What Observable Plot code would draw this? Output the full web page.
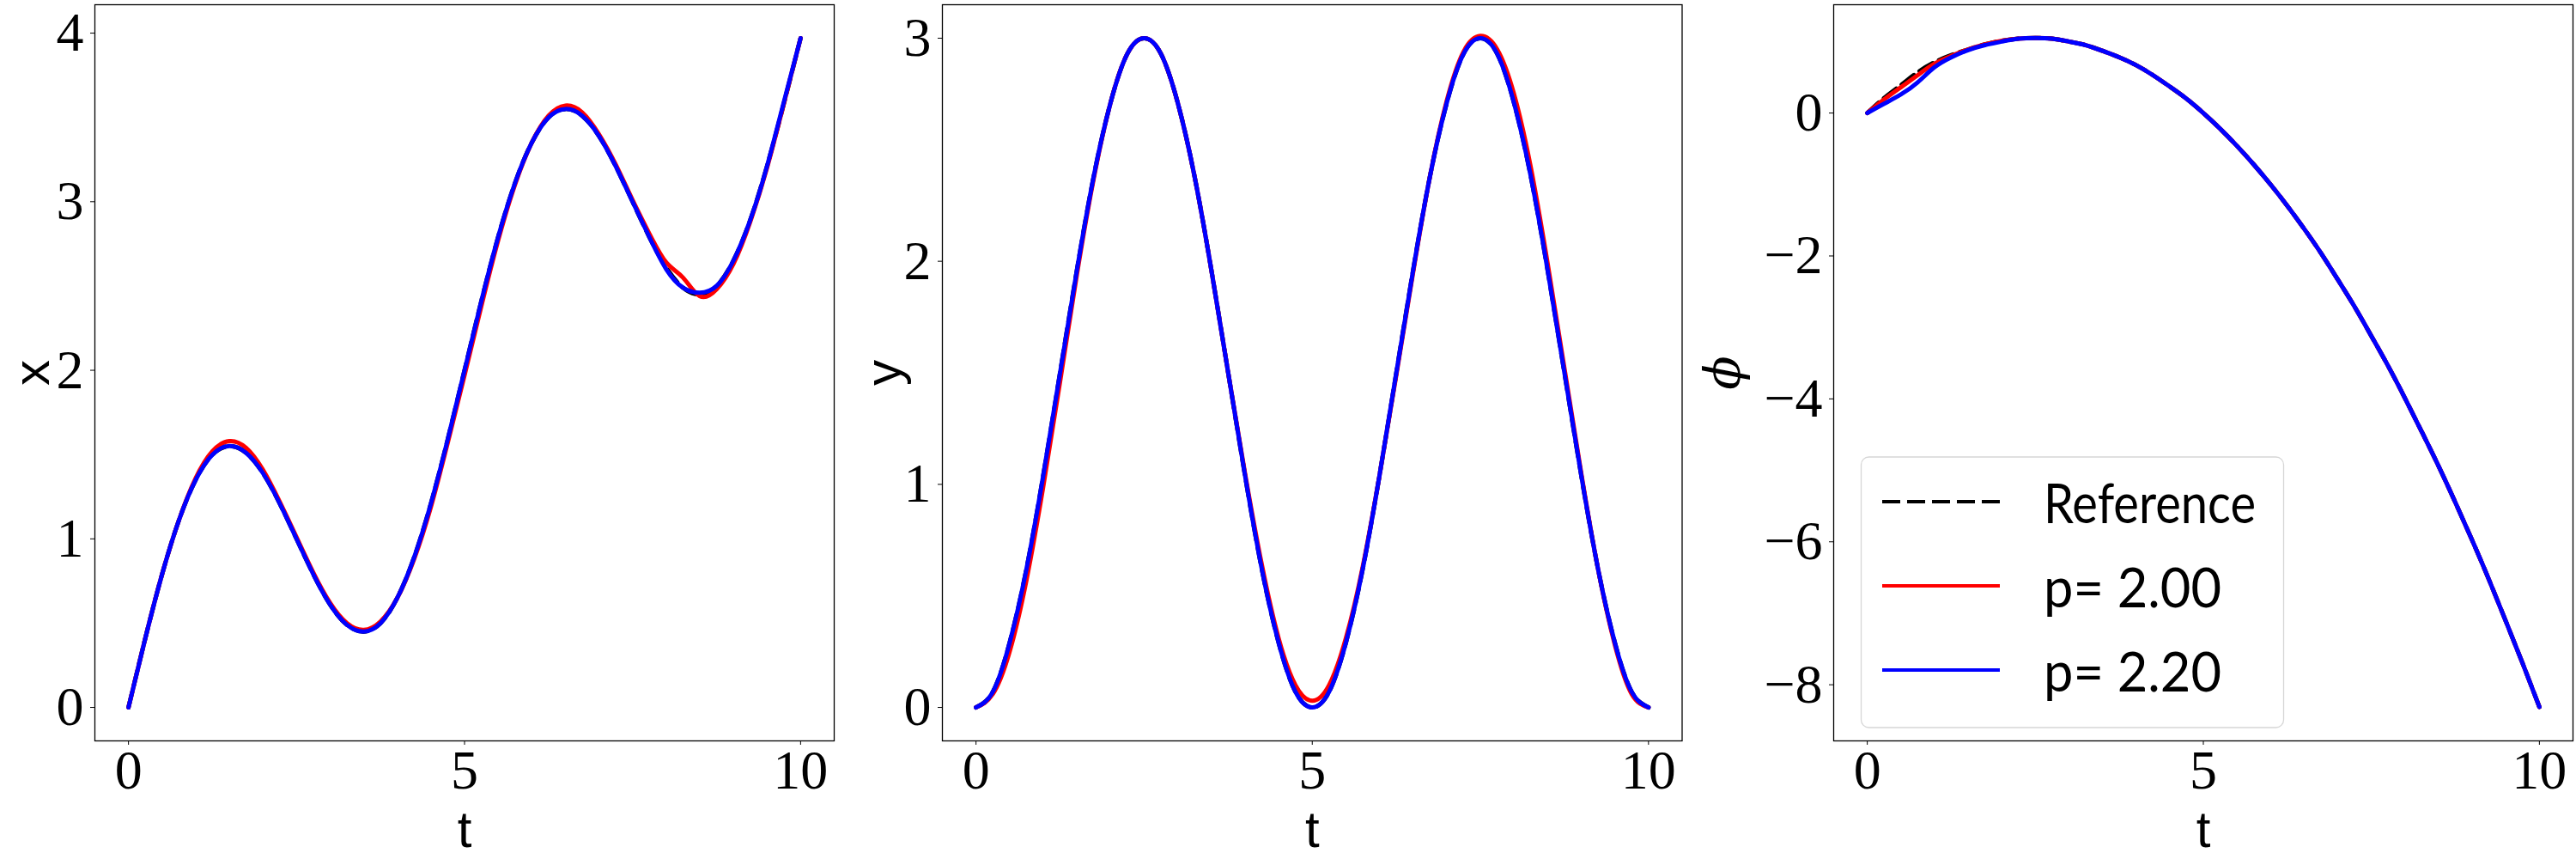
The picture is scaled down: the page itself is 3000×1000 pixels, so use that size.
<!DOCTYPE html>
<html>
<head>
<meta charset="utf-8">
<script src="https://cdn.jsdelivr.net/npm/d3@7"></script>
<script src="https://cdn.jsdelivr.net/npm/@observablehq/plot@0.6"></script>
<style>
  html, body { margin: 0; padding: 0; background: #fff; }
  #wrap { position: relative; width: 3000px; height: 1000px; overflow: hidden; }
  .panel { position: absolute; top: 0; }
  #legend { position: absolute; left: 0; top: 0; pointer-events: none; }
</style>
</head>
<body>
<div id="wrap"></div>
<script>
// ---- data ----
const t = [0, 0.25, 0.5, 0.75, 1, 1.25, 1.5, 1.75, 2, 2.25, 2.5, 2.75, 3, 3.25, 3.5, 3.75, 4, 4.25, 4.5, 4.75,
           5, 5.25, 5.5, 5.75, 6, 6.25, 6.5, 6.75, 7, 7.25, 7.5, 7.75, 8, 8.25, 8.5, 8.75, 9, 9.25, 9.5, 9.75, 10];

const xRef  = [0, 0.41, 0.79, 1.11, 1.35, 1.50, 1.55, 1.51, 1.39, 1.21, 1.00, 0.79, 0.61, 0.49, 0.45, 0.50, 0.65, 0.89, 1.21, 1.59,
               2.00, 2.41, 2.79, 3.11, 3.35, 3.50, 3.55, 3.51, 3.39, 3.21, 3.00, 2.79, 2.61, 2.49, 2.45, 2.50, 2.65, 2.89, 3.21, 3.58, 3.97];
const xP200 = [0, 0.41, 0.79, 1.11, 1.36, 1.52, 1.58, 1.54, 1.41, 1.22, 1.01, 0.80, 0.62, 0.50, 0.46, 0.51, 0.65, 0.88, 1.19, 1.57,
               1.97, 2.38, 2.77, 3.10, 3.35, 3.51, 3.57, 3.53, 3.40, 3.22, 3.01, 2.81, 2.64, 2.55, 2.44, 2.48, 2.63, 2.88, 3.20, 3.58, 3.97];
const xP220 = [0, 0.41, 0.79, 1.11, 1.35, 1.50, 1.55, 1.51, 1.39, 1.21, 1.00, 0.79, 0.61, 0.49, 0.45, 0.50, 0.65, 0.89, 1.21, 1.59,
               2.00, 2.41, 2.79, 3.11, 3.35, 3.50, 3.55, 3.51, 3.39, 3.21, 3.00, 2.79, 2.60, 2.49, 2.46, 2.50, 2.65, 2.89, 3.21, 3.59, 3.97];

const yRef  = [0, 0.07, 0.29, 0.62, 1.04, 1.50, 1.96, 2.38, 2.71, 2.93, 3.00, 2.93, 2.71, 2.38, 1.96, 1.50, 1.04, 0.62, 0.29, 0.07,
               0, 0.07, 0.29, 0.62, 1.04, 1.50, 1.96, 2.38, 2.71, 2.93, 3.00, 2.93, 2.71, 2.38, 1.96, 1.50, 1.04, 0.62, 0.29, 0.07, 0];
const yP200 = [0, 0.06, 0.25, 0.57, 0.99, 1.46, 1.94, 2.37, 2.71, 2.93, 3.00, 2.93, 2.71, 2.38, 1.96, 1.50, 1.05, 0.64, 0.31, 0.10,
               0.03, 0.10, 0.31, 0.63, 1.04, 1.49, 1.95, 2.38, 2.72, 2.94, 3.01, 2.95, 2.75, 2.42, 1.99, 1.52, 1.05, 0.62, 0.28, 0.06, 0];
const yP220 = [0, 0.07, 0.29, 0.62, 1.04, 1.50, 1.96, 2.38, 2.71, 2.93, 3.00, 2.93, 2.71, 2.38, 1.96, 1.50, 1.04, 0.62, 0.29, 0.07,
               0, 0.07, 0.29, 0.62, 1.04, 1.50, 1.96, 2.38, 2.71, 2.93, 3.00, 2.93, 2.71, 2.38, 1.96, 1.50, 1.04, 0.62, 0.29, 0.07, 0];

const phiRef  = [0, 0.21, 0.39, 0.57, 0.71, 0.81, 0.89, 0.96, 1.01, 1.04, 1.05, 1.04, 1.00, 0.95, 0.87, 0.78, 0.67, 0.53, 0.37, 0.20,
                 0, -0.22, -0.46, -0.72, -1.00, -1.30, -1.62, -1.96, -2.33, -2.71, -3.12, -3.54, -3.99, -4.46, -4.94, -5.45, -5.98, -6.53, -7.11, -7.70, -8.31];
const phiP200 = [0, 0.19, 0.36, 0.53, 0.69, 0.80, 0.89, 0.96, 1.01, 1.04, 1.05, 1.04, 1.00, 0.95, 0.87, 0.78, 0.67, 0.53, 0.37, 0.20,
                 0, -0.22, -0.46, -0.72, -1.00, -1.30, -1.62, -1.96, -2.33, -2.71, -3.12, -3.54, -3.99, -4.46, -4.94, -5.45, -5.98, -6.53, -7.11, -7.70, -8.31];
const phiP220 = [0, 0.13, 0.26, 0.43, 0.64, 0.78, 0.88, 0.95, 1.00, 1.04, 1.05, 1.04, 1.00, 0.95, 0.87, 0.78, 0.67, 0.53, 0.37, 0.20,
                 0, -0.22, -0.46, -0.72, -1.00, -1.30, -1.62, -1.96, -2.33, -2.71, -3.12, -3.54, -3.99, -4.46, -4.94, -5.45, -5.98, -6.53, -7.11, -7.70, -8.31];

const xTicks = [0, 5, 10];
const panelYTicks = [[0, 1, 2, 3, 4], [0, 1, 2, 3], [0, -2, -4, -6, -8]];
const yLabels = ["x", "y", "ϕ"];
const legendLabels = ["Reference", "p= 2.00", "p= 2.20"];
const seriesColors = ["#000000", "#ff0000", "#0000ff"];

// ---- layout ----
const W = 1000, H = 1000;
const panels = [
  { left: 0,    ml: 110, mr: 29,   ydom: [-0.1985, 4.1685], series: [xRef, xP200, xP220], ldx: -73, lfont: "'Liberation Sans', sans-serif", lstyle: "normal", lsize: 60 },
  { left: 1000, ml: 97,  mr: 41.5, ydom: [-0.15, 3.15],     series: [yRef, yP200, yP220], ldx: -68, lfont: "'Liberation Sans', sans-serif", lstyle: "normal", lsize: 60 },
  { left: 2000, ml: 135, mr: 4,    ydom: [-8.7855, 1.5155], series: [phiRef, phiP200, phiP220], ldx: -128, lfont: "'DejaVu Serif', serif", lstyle: "italic", lsize: 58 }
];

const wrap = document.getElementById("wrap");
const fmt = d3.format("d");

panels.forEach((p, i) => {
  const rows = (arr) => t.map((tv, k) => ({ t: tv, v: arr[k] }));
  const chart = Plot.plot({
    width: W,
    height: H,
    marginLeft: p.ml,
    marginRight: p.mr,
    marginTop: 5,
    marginBottom: 138,
    style: { fontFamily: "'Liberation Serif', serif", fontSize: "64px", background: "transparent", overflow: "visible", color: "#000" },
    x: { domain: [-0.5, 10.5] },
    y: { domain: p.ydom },
    marks: [
      Plot.axisX({ ticks: xTicks, tickSize: 5, tickPadding: 5, tickFormat: fmt, label: null, fontSize: 64 }),
      Plot.axisY({ ticks: panelYTicks[i], tickSize: 5, tickPadding: 8, tickFormat: fmt, label: null, fontSize: 64 }),
      Plot.line(rows(p.series[0]), { x: "t", y: "v", stroke: seriesColors[0], strokeWidth: 5, strokeDasharray: "18,8", curve: "natural" }),
      Plot.line(rows(p.series[1]), { x: "t", y: "v", stroke: seriesColors[1], strokeWidth: 5, curve: "natural" }),
      Plot.line(rows(p.series[2]), { x: "t", y: "v", stroke: seriesColors[2], strokeWidth: 5, curve: "natural" }),
      Plot.frame({ stroke: "#000", strokeWidth: 1.3 }),
      Plot.text(["t"], { text: d => d, frameAnchor: "bottom", dy: 104, lineAnchor: "middle", fontFamily: "'Liberation Sans', sans-serif", fontSize: 60 }),
      Plot.text([yLabels[i]], { text: d => d, frameAnchor: "left", dx: p.ldx, rotate: -90, lineAnchor: "middle", textAnchor: "middle",
                                 fontFamily: p.lfont, fontStyle: p.lstyle, fontSize: p.lsize })
    ]
  });
  chart.classList.add("panel");
  chart.style.left = p.left + "px";
  wrap.appendChild(chart);
});

// ---- legend (inside third panel) ----
const ns = "http://www.w3.org/2000/svg";
const leg = document.createElementNS(ns, "svg");
leg.setAttribute("id", "legend");
leg.setAttribute("width", 3000);
leg.setAttribute("height", 1000);
const box = document.createElementNS(ns, "rect");
box.setAttribute("x", 2167.5); box.setAttribute("y", 532);
box.setAttribute("width", 492); box.setAttribute("height", 315);
box.setAttribute("rx", 9);
box.setAttribute("fill", "rgba(255,255,255,0.8)");
box.setAttribute("stroke", "#d6d6d6"); box.setAttribute("stroke-width", 1.3);
leg.appendChild(box);
const rowY = [584, 682, 780];
const textW = [247, 207, 207];
legendLabels.forEach((lab, k) => {
  const ln = document.createElementNS(ns, "line");
  ln.setAttribute("x1", 2192); ln.setAttribute("x2", 2329);
  ln.setAttribute("y1", rowY[k]); ln.setAttribute("y2", rowY[k]);
  ln.setAttribute("stroke", seriesColors[k]);
  ln.setAttribute("stroke-width", 4);
  if (k === 0) ln.setAttribute("stroke-dasharray", "21,8");
  leg.appendChild(ln);
  const tx = document.createElementNS(ns, "text");
  tx.setAttribute("x", 2380);
  tx.setAttribute("y", rowY[k] + 25);
  tx.setAttribute("font-family", "Lato, sans-serif");
  tx.setAttribute("font-size", 64);
  tx.setAttribute("textLength", textW[k]);
  tx.setAttribute("lengthAdjust", "spacingAndGlyphs");
  tx.textContent = lab;
  leg.appendChild(tx);
});
wrap.appendChild(leg);
</script>
</body>
</html>
